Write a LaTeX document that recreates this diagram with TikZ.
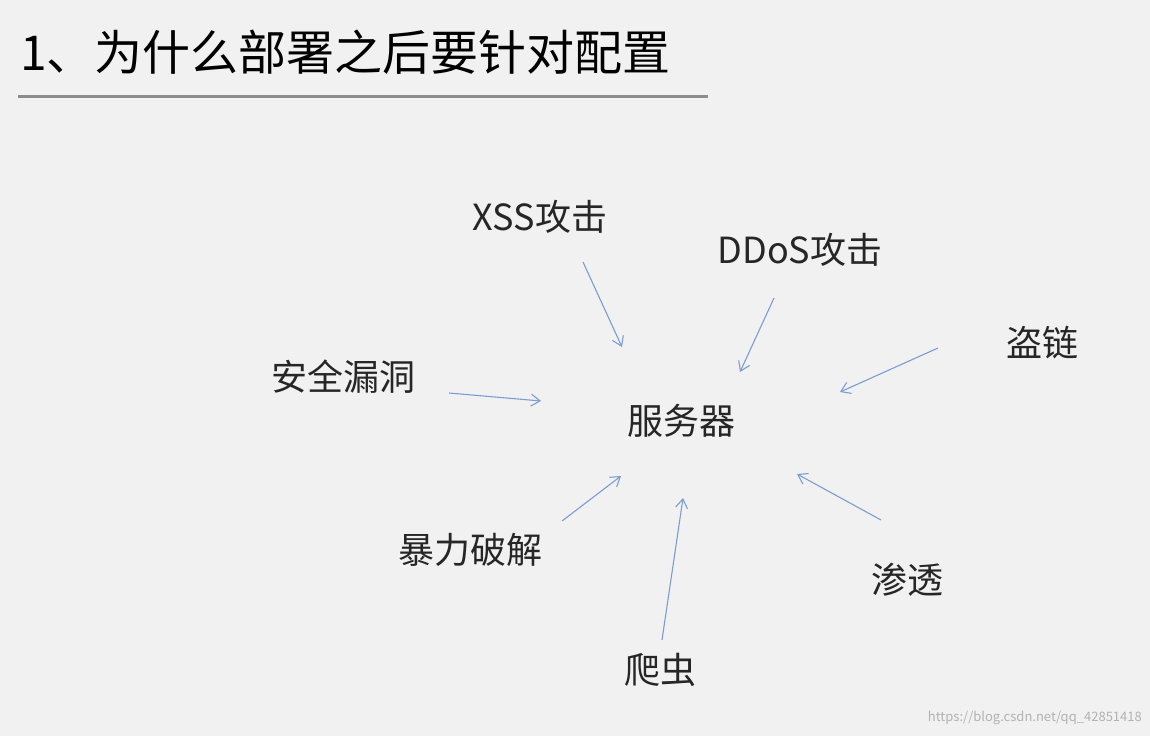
\documentclass[tikz,border=0pt]{standalone}
\usepackage{fontspec}
\setmainfont{Noto Sans CJK SC}
\usetikzlibrary{arrows.meta}
\definecolor{bgray}{HTML}{F1F1F1}
\definecolor{lblue}{HTML}{7C9CD4}
\tikzset{
  lbl/.style={inner sep=0pt, font=\fontsize{36}{40}\selectfont, text=black!85},
  attack/.style={draw=lblue, line width=1.1pt, -{Straight Barb[length=9pt,width=12pt]}}
}
\begin{document}
\begin{tikzpicture}[x=1pt, y=-1pt]
\fill[bgray] (0,0) rectangle (1150,736);
\useasboundingbox (0,0) rectangle (1150,736);
% title
\node (title) [anchor=west, inner sep=0pt, font=\fontsize{48}{52}\selectfont] at (20,52) {1、为什么部署之后要针对配置};
\draw[black!45, line width=3pt] (18,96) -- (708,96);
% labels
\node (server) [lbl] at (681,421) {服务器};
\node (xss) [lbl] at (540,217) {XSS攻击};
\node (ddos) [lbl] at (800,250) {DDoS攻击};
\node (leech) [lbl] at (1042,343) {盗链};
\node (vuln) [lbl] at (343,377) {安全漏洞};
\node (brute) [lbl] at (470,550) {暴力破解};
\node (crawl) [lbl] at (660,670) {爬虫};
\node (pen) [lbl] at (907,580) {渗透};
\node (mark) [anchor=east, inner sep=0pt, font=\fontsize{13}{14}\selectfont, text=black!30] at (1142,718) {https://blog.csdn.net/qq\_42851418};
% arrows
\coordinate (xssa) at (583,262);   \coordinate (xssb) at (622,347);
\coordinate (ddosa) at (774,298);  \coordinate (ddosb) at (740,372);
\coordinate (leecha) at (938,348); \coordinate (leechb) at (840,392);
\coordinate (vulna) at (449,393);  \coordinate (vulnb) at (541,401);
\coordinate (brutea) at (562,521); \coordinate (bruteb) at (621,476);
\coordinate (crawla) at (662,640); \coordinate (crawlb) at (683,498);
\coordinate (pena) at (881,520);   \coordinate (penb) at (797,474);
\draw[attack] (xssa) -- (xssb);
\draw[attack] (ddosa) -- (ddosb);
\draw[attack] (leecha) -- (leechb);
\draw[attack] (vulna) -- (vulnb);
\draw[attack] (brutea) -- (bruteb);
\draw[attack] (crawla) -- (crawlb);
\draw[attack] (pena) -- (penb);
\end{tikzpicture}
\end{document}
